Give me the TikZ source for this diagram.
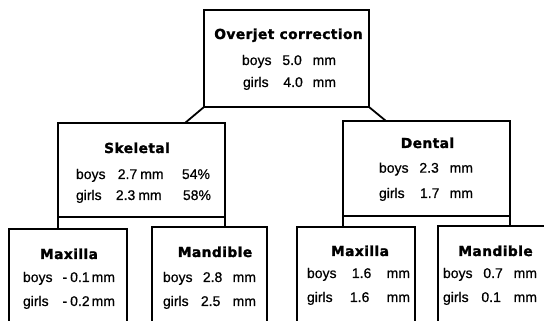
\documentclass[tikz,border=0pt]{standalone}
\usepackage{fontspec}
\setmainfont{Liberation Sans}[FakeBold=0.6]
\newfontfamily\heavyfont{DejaVu Sans}[LetterSpace=3,BoldFeatures={FakeBold=1.6}]
\usetikzlibrary{calc}
\newcommand{\tline}[2]{\makebox[#1][s]{#2}}
\begin{document}
\begin{tikzpicture}[x=1pt,y=1pt,
  box/.style={draw, line width=1.8pt, rectangle, inner sep=0pt, outer sep=0pt},
  title/.style={anchor=base, inner sep=0pt, font=\heavyfont\bfseries\fontsize{13.8}{15}\selectfont},
  txt/.style={anchor=base, inner sep=0pt, font=\fontsize{14}{16}\selectfont},
  link/.style={line width=1.8pt}]
\useasboundingbox (0,0) rectangle (544,321);
\clip (0,0) rectangle (544,321);
% boxes
\node[box, minimum width=165pt, minimum height=97pt] (top) at (286.5,262.5) {};
\node[box, minimum width=167pt, minimum height=94pt] (skel) at (141.5,151) {};
\node[box, minimum width=167pt, minimum height=95pt] (dent) at (426.5,152.5) {};
\node[box, minimum width=118pt, minimum height=112pt] (lmax) at (68,36) {};
\node[box, minimum width=115pt, minimum height=114pt] (lmand) at (209.5,37) {};
\node[box, minimum width=118pt, minimum height=114pt] (rmax) at (356,37) {};
\node[box, minimum width=132pt, minimum height=115pt] (rmand) at (504,37.5) {};
% texts
\node[title] (t0) at (288.5,282) {Overjet correction};
\node[txt] (t0b) at (289,256) {\tline{94pt}{boys\hfill 5.0\hfill mm}};
\node[txt] (t0g) at (289.5,234) {\tline{93pt}{girls\hspace{\stretch{1.5}}4.0\hfill mm}};
\node[title] (t1) at (137,168) {Skeletal};
\node[txt] (t1b) at (143,142) {\tline{134pt}{boys\hspace{\stretch{1}}2.7\hspace{3pt}mm\hspace{\stretch{1.5}}54\%}};
\node[txt] (t1g) at (143.5,121) {\tline{135pt}{girls\hspace{\stretch{1}}2.3\hspace{3pt}mm\hspace{\stretch{1.5}}58\%}};
\node[title] (t2) at (427.5,173) {Dental};
\node[txt] (t2b) at (426,148.3) {\tline{94pt}{boys\hfill 2.3\hfill mm}};
\node[txt] (t2g) at (426,123) {\tline{94pt}{girls\hspace{\stretch{1.5}}1.7\hfill mm}};
\node[title] (t3) at (69,62) {Maxilla};
\node[txt] (t3b) at (69,39) {\tline{92pt}{boys\hfill -\hspace{3pt}0.1\hspace{2pt}mm}};
\node[txt] (t3g) at (69,15) {\tline{92pt}{girls\hfill -\hspace{3pt}0.2\hspace{2pt}mm}};
\node[title] (t4) at (215,64) {Mandible};
\node[txt] (t4b) at (209.5,39) {\tline{93pt}{boys\hfill 2.8\hfill mm}};
\node[txt] (t4g) at (209.5,15) {\tline{93pt}{girls\hfill 2.5\hfill mm}};
\node[title] (t5) at (360,65) {Maxilla};
\node[txt] (t5b) at (358.5,43) {\tline{103pt}{boys\hfill 1.6\hfill mm}};
\node[txt] (t5g) at (358.5,19) {\tline{103pt}{girls\hfill 1.6\hfill mm}};
\node[title] (t6) at (495.5,65) {Mandible};
\node[txt] (t6b) at (490,43) {\tline{94pt}{boys\hfill 0.7\hfill mm}};
\node[txt] (t6g) at (490,19) {\tline{94pt}{girls\hfill 0.1\hfill mm}};
% connectors
\draw[link] (top.south west) -- ($(skel.north west)+(127,0)$);
\draw[link] (top.south east) -- ($(dent.north west)+(43,0)$);
\draw[link] (skel.south west) -- (skel.south west |- lmax.north);
\draw[link] (skel.south east) -- (skel.south east |- lmand.north);
\draw[link] (dent.south west) -- (dent.south west |- rmax.north);
\draw[link] (dent.south east) -- (dent.south east |- rmand.north);
\end{tikzpicture}
\end{document}
